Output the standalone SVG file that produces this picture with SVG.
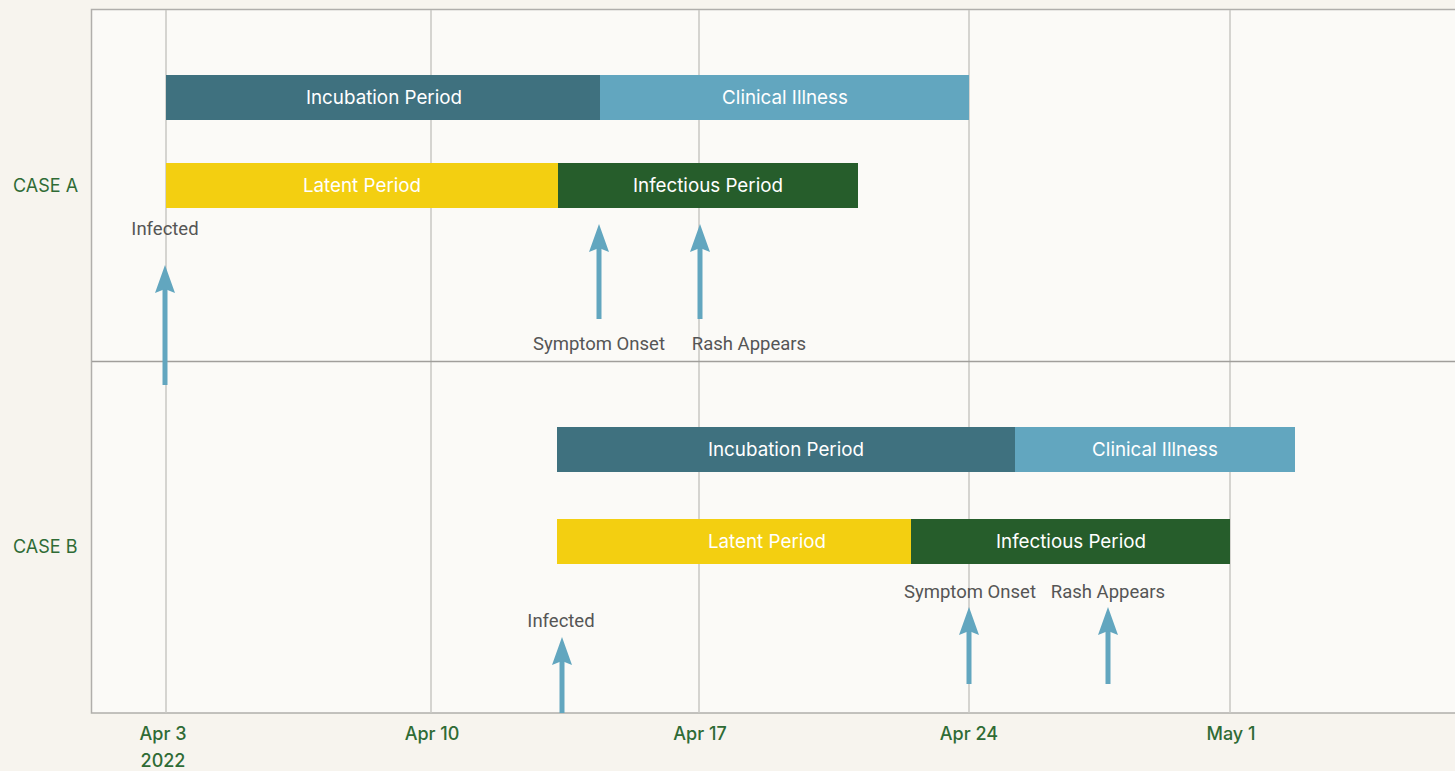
<svg xmlns="http://www.w3.org/2000/svg" width="1455" height="771" viewBox="0 0 1455 771">
<style>
.bt{font-family:Inter,"Open Sans",sans-serif;font-size:18.8px;fill:#ffffff;text-anchor:middle}
.ev{font-family:Roboto,"Liberation Sans",sans-serif;font-size:18.5px;fill:#555555;text-anchor:middle}
.ax{font-family:Inter,"Open Sans",sans-serif;font-size:18px;font-weight:500;fill:#2f6b35;text-anchor:middle}
.rl{font-family:Inter,"Open Sans",sans-serif;font-size:18px;fill:#2f6b35;text-anchor:start}
.grid{stroke:#c9c7c3;stroke-width:1.5}
.arr{stroke:#62a6bf;stroke-width:5;fill:none}
.ah{fill:#62a6bf}
</style>
<defs>
<path id="head" d="M0,0 L10,28 L0,24 L-10,28 Z"/>
</defs>
<rect x="0" y="0" width="1455" height="771" fill="#f7f4ee"/>
<rect x="91.5" y="9.5" width="1370" height="703.5" fill="#fbfaf7" stroke="#b0aeab" stroke-width="1.5"/>
<g id="grid">
<line class="grid" x1="166" y1="10" x2="166" y2="713"/>
<line class="grid" x1="431" y1="10" x2="431" y2="713"/>
<line class="grid" x1="699" y1="10" x2="699" y2="713"/>
<line class="grid" x1="969" y1="10" x2="969" y2="713"/>
<line class="grid" x1="1230" y1="10" x2="1230" y2="713"/>
<line x1="92" y1="361.5" x2="1455" y2="361.5" stroke="#a09e9b" stroke-width="1.5"/>
</g>
<g id="row-labels">
<text class="rl" x="13" y="192">CASE A</text>
<text class="rl" x="13" y="553">CASE B</text>
</g>
<g id="a-incubation"><rect x="166" y="75" width="434" height="45" fill="#3f717f"/><text class="bt" x="384" y="104">Incubation Period</text></g>
<g id="a-clinical"><rect x="600" y="75" width="369" height="45" fill="#62a6bf"/><text class="bt" x="785" y="104">Clinical Illness</text></g>
<g id="a-latent"><rect x="166" y="163" width="392" height="45" fill="#f3cf11"/><text class="bt" x="362" y="192">Latent Period</text></g>
<g id="a-infectious"><rect x="558" y="163" width="300" height="45" fill="#265d2b"/><text class="bt" x="708" y="192">Infectious Period</text></g>
<g id="b-incubation"><rect x="557" y="427" width="458" height="45" fill="#3f717f"/><text class="bt" x="786" y="456">Incubation Period</text></g>
<g id="b-clinical"><rect x="1015" y="427" width="280" height="45" fill="#62a6bf"/><text class="bt" x="1155" y="456">Clinical Illness</text></g>
<g id="b-latent"><rect x="557" y="519" width="354" height="45" fill="#f3cf11"/><text class="bt" x="767" y="548">Latent Period</text></g>
<g id="b-infectious"><rect x="911" y="519" width="319" height="45" fill="#265d2b"/><text class="bt" x="1071" y="548">Infectious Period</text></g>
<g id="connectors">
<line class="arr" x1="165" y1="385" x2="165" y2="285"/><use href="#head" class="ah" x="165" y="265"/>
<line class="arr" x1="599" y1="319" x2="599" y2="244"/><use href="#head" class="ah" x="599" y="224"/>
<line class="arr" x1="700" y1="319" x2="700" y2="244"/><use href="#head" class="ah" x="700" y="224"/>
<line class="arr" x1="562" y1="713" x2="562" y2="657"/><use href="#head" class="ah" x="562" y="637"/>
<line class="arr" x1="969" y1="684" x2="969" y2="627"/><use href="#head" class="ah" x="969" y="607"/>
<line class="arr" x1="1108" y1="684" x2="1108" y2="627"/><use href="#head" class="ah" x="1108" y="607"/>
</g>
<g id="event-labels">
<text class="ev" x="165" y="235">Infected</text>
<text class="ev" x="599" y="350">Symptom Onset</text>
<text class="ev" x="749" y="350">Rash Appears</text>
<text class="ev" x="561" y="627">Infected</text>
<text class="ev" x="970" y="598">Symptom Onset</text>
<text class="ev" x="1108" y="598">Rash Appears</text>
</g>
<g id="axis">
<text class="ax" x="163" y="740">Apr 3</text>
<text class="ax" x="163" y="767">2022</text>
<text class="ax" x="432" y="740">Apr 10</text>
<text class="ax" x="700" y="740">Apr 17</text>
<text class="ax" x="969" y="740">Apr 24</text>
<text class="ax" x="1231" y="740">May 1</text>
</g>
</svg>
